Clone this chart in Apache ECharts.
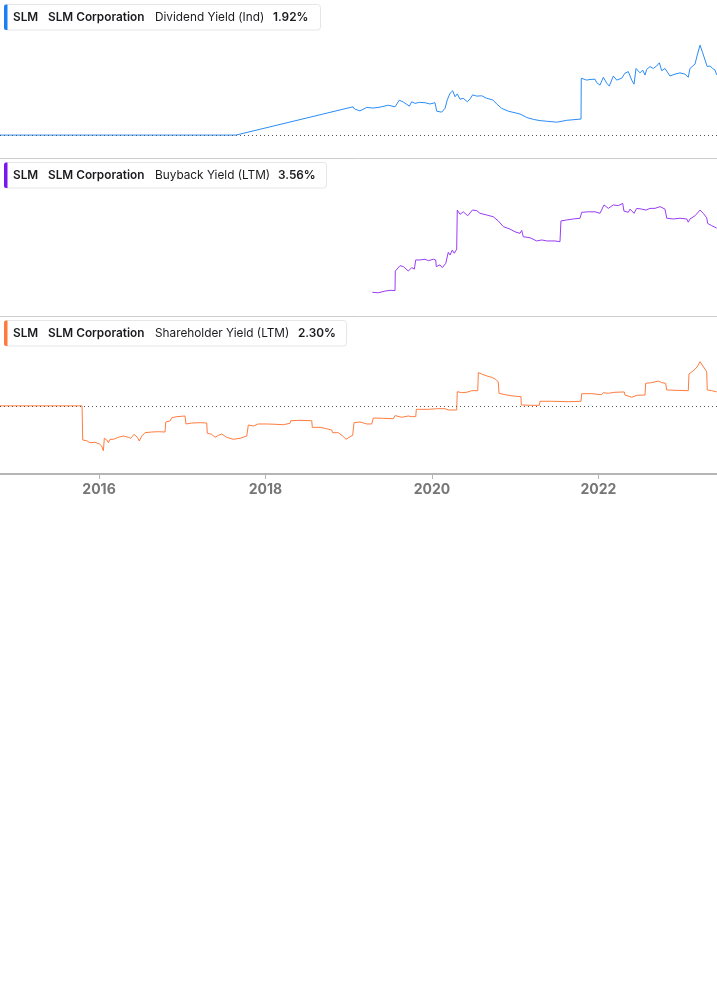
<!DOCTYPE html>
<html>
<head>
<meta charset="utf-8">
<script src="https://cdn.jsdelivr.net/npm/echarts@6/dist/echarts.min.js"></script>
<style>
html,body{margin:0;padding:0;background:#fff;}
#chart{width:717px;height:1005px;}
</style>
</head>
<body>
<div id="chart"></div>
<script>
// ---- data (dates as decimal years) ----
const yearTicks = [2016, 2018, 2020, 2022];

const divDates = [2014.810, 2017.646, 2019.052, 2019.070, 2019.136, 2019.217, 2019.296, 2019.377, 2019.476, 2019.557,
  2019.608, 2019.657, 2019.729, 2019.757, 2019.797, 2019.849, 2019.917, 2019.977, 2020.037, 2020.058,
  2020.118, 2020.158, 2020.185, 2020.218, 2020.250, 2020.278, 2020.305, 2020.338, 2020.377, 2020.426,
  2020.458, 2020.490, 2020.538, 2020.599, 2020.659, 2020.731, 2020.779, 2020.839, 2020.918, 2020.999,
  2021.059, 2021.079, 2021.139, 2021.219, 2021.299, 2021.380, 2021.500, 2021.620, 2021.792, 2021.795,
  2021.860, 2021.900, 2021.960, 2021.980, 2022.020, 2022.060, 2022.101, 2022.132, 2022.180, 2022.221,
  2022.281, 2022.320, 2022.360, 2022.401, 2022.429, 2022.453, 2022.501, 2022.533, 2022.561, 2022.581,
  2022.621, 2022.661, 2022.701, 2022.733, 2022.761, 2022.801, 2022.861, 2022.921, 2022.981, 2023.041,
  2023.081, 2023.101, 2023.162, 2023.189, 2023.222, 2023.254, 2023.282, 2023.309, 2023.342, 2023.374,
  2023.402, 2023.422];
const divYield = [0, 0, 0.90, 0.83, 0.77, 0.88, 0.86, 0.89, 0.95, 0.90,
  1.11, 1.05, 0.92, 1.06, 1.01, 1.04, 1.03, 0.99, 1.03, 0.76,
  0.73, 0.85, 1.12, 1.33, 1.41, 1.22, 1.31, 1.14, 1.17, 1.06,
  1.15, 1.28, 1.24, 1.25, 1.17, 1.12, 0.99, 0.85, 0.76, 0.71,
  0.67, 0.61, 0.56, 0.50, 0.46, 0.44, 0.41, 0.47, 0.51, 1.81,
  1.75, 1.77, 1.78, 1.67, 1.59, 1.84, 1.65, 1.56, 1.88, 1.75,
  1.81, 1.97, 2.02, 1.75, 1.62, 2.12, 1.98, 2.07, 1.91, 2.09,
  2.18, 2.12, 2.20, 2.30, 2.05, 2.12, 1.88, 1.94, 1.98, 1.94,
  1.84, 2.12, 2.26, 2.55, 2.86, 2.62, 2.39, 2.18, 2.20, 2.12,
  2.07, 1.92];

const bbDates = [2019.284, 2019.356, 2019.437, 2019.497, 2019.517, 2019.557, 2019.560, 2019.617, 2019.657, 2019.717,
  2019.757, 2019.789, 2019.806, 2019.857, 2019.917, 2019.957, 2020.017, 2020.046, 2020.053, 2020.097,
  2020.125, 2020.166, 2020.197, 2020.218, 2020.245, 2020.269, 2020.298, 2020.305, 2020.338, 2020.377,
  2020.430, 2020.486, 2020.538, 2020.578, 2020.659, 2020.738, 2020.798, 2020.858, 2020.939, 2020.999,
  2021.059, 2021.079, 2021.098, 2021.179, 2021.259, 2021.320, 2021.380, 2021.479, 2021.539, 2021.551,
  2021.620, 2021.699, 2021.780, 2021.800, 2021.879, 2021.960, 2022.020, 2022.040, 2022.068, 2022.120,
  2022.180, 2022.240, 2022.293, 2022.308, 2022.360, 2022.381, 2022.429, 2022.461, 2022.521, 2022.573,
  2022.621, 2022.681, 2022.741, 2022.801, 2022.822, 2022.901, 2022.981, 2023.062, 2023.081, 2023.101,
  2023.162, 2023.222, 2023.261, 2023.302, 2023.314, 2023.362, 2023.422];
const bbYield = [0.96, 0.94, 1.01, 1.04, 1.00, 1.03, 1.82, 2.04, 2.00, 1.82,
  1.96, 1.90, 2.27, 2.27, 2.30, 2.24, 2.30, 2.27, 2.00, 2.07,
  1.96, 2.13, 2.58, 2.47, 2.67, 2.54, 2.71, 4.29, 4.12, 4.22,
  4.06, 4.29, 4.27, 4.16, 4.09, 4.02, 3.85, 3.62, 3.52, 3.41,
  3.35, 3.47, 3.21, 3.17, 3.04, 3.08, 3.04, 3.04, 3.01, 3.85,
  3.89, 3.93, 3.96, 4.20, 4.22, 4.22, 4.16, 4.09, 4.50, 4.36,
  4.50, 4.47, 4.56, 4.25, 4.20, 4.33, 4.16, 4.36, 4.33, 4.29,
  4.36, 4.36, 4.43, 4.33, 3.96, 3.93, 3.96, 3.93, 3.80, 3.93,
  4.06, 4.29, 4.16, 3.98, 3.75, 3.66, 3.56];

const shDates = [2014.810, 2015.796, 2015.804, 2015.852, 2015.892, 2015.952, 2016.004, 2016.032, 2016.052, 2016.064,
  2016.093, 2016.112, 2016.132, 2016.172, 2016.232, 2016.292, 2016.352, 2016.381, 2016.421, 2016.460,
  2016.484, 2016.513, 2016.553, 2016.633, 2016.713, 2016.793, 2016.802, 2016.853, 2016.874, 2016.934,
  2017.033, 2017.045, 2017.114, 2017.214, 2017.294, 2017.301, 2017.354, 2017.394, 2017.434, 2017.474,
  2017.534, 2017.614, 2017.694, 2017.775, 2017.794, 2017.854, 2017.914, 2018.015, 2018.115, 2018.215,
  2018.295, 2018.304, 2018.415, 2018.556, 2018.563, 2018.656, 2018.736, 2018.796, 2018.808, 2018.875,
  2018.928, 2018.968, 2019.016, 2019.048, 2019.064, 2019.136, 2019.217, 2019.277, 2019.296, 2019.416,
  2019.536, 2019.557, 2019.637, 2019.717, 2019.757, 2019.806, 2019.813, 2019.957, 2020.058, 2020.158,
  2020.197, 2020.298, 2020.305, 2020.358, 2020.418, 2020.478, 2020.551, 2020.558, 2020.599, 2020.659,
  2020.719, 2020.767, 2020.798, 2020.806, 2020.879, 2020.978, 2021.071, 2021.074, 2021.179, 2021.291,
  2021.299, 2021.440, 2021.639, 2021.792, 2021.800, 2021.920, 2022.040, 2022.060, 2022.120, 2022.200,
  2022.312, 2022.320, 2022.401, 2022.461, 2022.561, 2022.569, 2022.641, 2022.721, 2022.761, 2022.809,
  2022.822, 2022.921, 2023.081, 2023.089, 2023.162, 2023.194, 2023.222, 2023.249, 2023.302, 2023.309,
  2023.362, 2023.422];
const shYield = [0, 0, -5.61, -5.73, -6.06, -5.99, -6.27, -6.60, -7.37, -5.33,
  -5.61, -6.06, -5.50, -5.50, -5.17, -4.96, -5.17, -5.33, -4.68, -5.17,
  -5.78, -4.96, -4.41, -4.30, -4.25, -4.30, -2.65, -2.49, -1.95, -1.78,
  -1.67, -2.98, -2.82, -2.77, -2.82, -4.51, -4.68, -5.17, -4.84, -4.63,
  -5.17, -5.50, -5.33, -4.96, -3.15, -3.31, -2.98, -2.98, -3.03, -3.10,
  -2.87, -2.44, -2.38, -2.44, -3.53, -3.53, -3.76, -3.97, -4.41, -4.41,
  -4.96, -5.50, -5.07, -4.84, -2.77, -2.65, -2.98, -2.98, -2.00, -2.05,
  -2.11, -1.60, -1.88, -1.67, -1.78, -1.78, -0.57, -0.57, -0.47, -0.47,
  -0.68, -0.68, 2.33, 2.16, 2.23, 2.49, 2.49, 5.45, 5.23, 4.91,
  4.69, 4.36, 3.92, 2.06, 1.83, 1.62, 1.50, 0.14, 0.09, 0.09,
  0.75, 0.75, 0.68, 0.75, 2.00, 2.00, 1.83, 2.16, 2.06, 2.23,
  2.28, 1.78, 1.41, 1.73, 1.78, 3.71, 3.81, 4.08, 3.81, 3.71,
  2.61, 2.56, 2.49, 5.23, 6.01, 6.55, 7.26, 6.71, 5.61, 2.61,
  2.49, 2.30];

const panels = [
  {ticker: 'SLM', name: 'SLM Corporation', metric: 'Dividend Yield (Ind)', last: '1.92%'},
  {ticker: 'SLM', name: 'SLM Corporation', metric: 'Buyback Yield (LTM)', last: '3.56%'},
  {ticker: 'SLM', name: 'SLM Corporation', metric: 'Shareholder Yield (LTM)', last: '2.30%'}
];

// ---- styling / layout ----
const X_MIN = 2014.81, X_MAX = 2023.426;
const colors = ['#2a8cf7', '#9a3cf5', '#ff7c3f'];
const barColors = ['#1a7ff0', '#7a16f0', '#ff7a3d'];
const grids = [
  {left: 0, right: 0, top: 0, height: 158},
  {left: 0, right: 0, top: 158, height: 158},
  {left: 0, right: 0, top: 317, height: 157}
];
const yRanges = [[-0.73, 4.3], [0, 6.4], [-11.2, 14.6]];
const boxes = [
  {y: 4.5, w: 316, textY: 17.5, metricX: 155, lastX: 273},
  {y: 162.5, w: 322, textY: 175.5, metricX: 155, lastX: 278},
  {y: 320.5, w: 342, textY: 333.5, metricX: 155, lastX: 298}
];

const zip = (xs, ys) => xs.map((x, i) => [x, ys[i]]);
const seriesData = [zip(divDates, divYield), zip(bbDates, bbYield), zip(shDates, shYield)];

const zeroLine = {
  silent: true, symbol: 'none', label: {show: false},
  lineStyle: {color: '#555', type: [1, 3], width: 1},
  data: [{yAxis: 0}]
};

const xAxes = grids.map((g, i) => ({
  type: 'value', gridIndex: i, min: X_MIN, max: X_MAX,
  splitLine: {show: false},
  axisLine: {show: true, onZero: false, lineStyle: {color: i === 2 ? '#b5b5b5' : '#cdcdcd', width: i === 2 ? 2 : 1}},
  axisTick: i === 2 ? {show: true, length: 5, customValues: yearTicks, lineStyle: {color: '#b5b5b5', width: 1}} : {show: false},
  axisLabel: i === 2 ? {
    show: true, customValues: yearTicks, margin: 9,
    formatter: v => String(Math.round(v)),
    color: '#767676', fontFamily: 'Inter', fontWeight: 700, fontSize: 14
  } : {show: false}
}));

const yAxes = grids.map((g, i) => ({
  type: 'value', gridIndex: i, min: yRanges[i][0], max: yRanges[i][1],
  show: false, splitLine: {show: false}
}));

const series = seriesData.map((d, i) => ({
  type: 'line', xAxisIndex: i, yAxisIndex: i, data: d,
  showSymbol: false, symbol: 'none', smooth: false,
  lineStyle: {color: colors[i], width: 1},
  markLine: i === 1 ? undefined : zeroLine,
  animation: false
}));

const graphic = [];
panels.forEach((p, i) => {
  const b = boxes[i];
  graphic.push({type: 'rect', shape: {x: 4.5, y: b.y, width: b.w, height: 25.5, r: 3},
    style: {fill: '#fff', stroke: '#e6e6e6', lineWidth: 1}, z: 10});
  graphic.push({type: 'rect', shape: {x: 4, y: b.y, width: 3.5, height: 25.5, r: [2, 0, 0, 2]},
    style: {fill: barColors[i]}, z: 11});
  const t = (txt, x, w) => ({type: 'text', x: x, y: b.textY, z: 12,
    style: {text: txt, fill: '#1b1b1f', font: w + ' 11.8px Inter', verticalAlign: 'middle', textVerticalAlign: 'middle'}});
  graphic.push(t(p.ticker, 13, 600));
  graphic.push(t(p.name, 48, 600));
  graphic.push(t(p.metric, b.metricX, 400));
  graphic.push(t(p.last, b.lastX, 600));
});

const chart = echarts.init(document.getElementById('chart'), null, {renderer: 'canvas'});
chart.setOption({
  animation: false,
  backgroundColor: '#fff',
  grid: grids,
  xAxis: xAxes,
  yAxis: yAxes,
  series: series,
  graphic: graphic
});
</script>
</body>
</html>
